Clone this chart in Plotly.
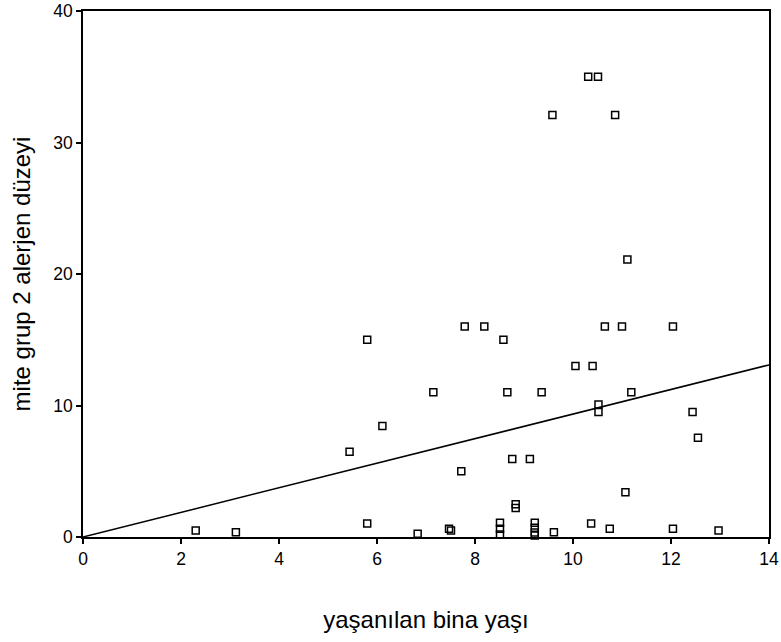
import plotly.graph_objects as go

# Building age (years) and mite group 2 allergen level
bina_yasi = [2.30, 3.12, 5.44, 5.80, 5.80, 6.11, 6.83, 7.15, 7.47, 7.51,
             7.72, 7.79, 8.19, 8.51, 8.51, 8.51, 8.58, 8.66, 8.76, 8.83,
             8.83, 9.12, 9.22, 9.22, 9.22, 9.22, 9.36, 9.58, 9.61, 10.05,
             10.31, 10.37, 10.40, 10.51, 10.52, 10.52, 10.65, 10.75, 10.86, 11.00,
             11.07, 11.11, 11.19, 12.04, 12.04, 12.44, 12.55, 12.97]
alerjen = [0.50, 0.37, 6.49, 15.0, 1.03, 8.44, 0.24, 11.0, 0.62, 0.50,
           5.00, 16.0, 16.0, 1.08, 0.62, 0.19, 15.0, 11.0, 5.93, 2.50,
           2.20, 5.93, 1.08, 0.70, 0.35, 0.11, 11.0, 32.1, 0.37, 13.0,
           35.0, 1.03, 13.0, 35.0, 10.07, 9.51, 16.0, 0.62, 32.1, 16.0,
           3.41, 21.1, 11.0, 16.0, 0.62, 9.51, 7.55, 0.50]

# Fit line through the origin
egim = 0.935
fit_x = [0, 14]
fit_y = [egim * v for v in fit_x]

x_ticks = [0, 2, 4, 6, 8, 10, 12, 14]
y_ticks = [0, 10, 20, 30, 40]

font = "Liberation Sans, Arial, sans-serif"

fig = go.Figure()
fig.add_trace(go.Scatter(
    x=fit_x, y=fit_y, mode="lines",
    line=dict(color="black", width=1.5),
    showlegend=False, hoverinfo="skip", cliponaxis=False,
))
fig.add_trace(go.Scatter(
    x=bina_yasi, y=alerjen, mode="markers",
    marker=dict(symbol="square-open", size=7, color="black",
                line=dict(color="black", width=1.5)),
    showlegend=False, cliponaxis=False,
))

axis_common = dict(
    showgrid=False, zeroline=False, automargin=False,
    showline=True, linecolor="black", linewidth=1.5, mirror=True,
    ticks="outside", ticklen=5, tickwidth=1.5, tickcolor="black",
    tickfont=dict(family=font, size=17.5, color="black"),
)

fig.update_layout(
    width=781, height=642,
    margin=dict(l=83, r=12, t=11, b=105),
    paper_bgcolor="white", plot_bgcolor="white",
    font=dict(family=font, color="black"),
    xaxis=dict(range=[0, 14], tickvals=x_ticks,
               title=dict(text="yaşanılan bina yaşı",
                          font=dict(family=font, size=24), standoff=43),
               **axis_common),
    yaxis=dict(range=[0, 40], tickvals=y_ticks,
               title=dict(text="mite grup 2 alerjen düzeyi",
                          font=dict(family=font, size=24), standoff=16),
               **axis_common),
)

fig.write_html("out.html")
